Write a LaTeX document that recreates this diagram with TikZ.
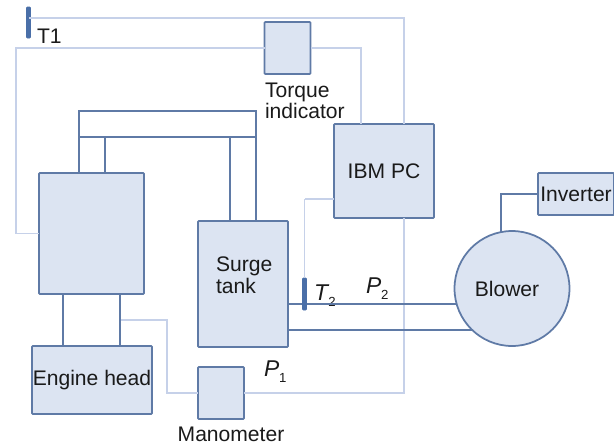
\documentclass[tikz,border=0pt]{standalone}
\usepackage{fontspec}
\setmainfont{Liberation Sans}
\usepackage{xcolor}
\usetikzlibrary{calc}
\definecolor{RigEdge}{HTML}{5F7AA6}
\definecolor{RigFill}{HTML}{DCE4F2}
\definecolor{RigWire}{HTML}{C6D1E9}
\definecolor{RigProbe}{HTML}{4A6FA8}
\definecolor{RigText}{HTML}{1A1A1A}
\newcommand{\sublabel}[3][0pt]{\textit{#2}\hspace{#1}\raisebox{-3.5pt}{\fontsize{7.5}{8}\selectfont #3}}

\begin{document}
\begin{tikzpicture}[
  x=0.02cm, y=-0.02cm,
  box/.style={draw=RigEdge, fill=RigFill, line width=1pt, rounded corners=0.5pt, outer sep=0pt, inner sep=0pt, align=center, text=RigText, font=\fontsize{12}{13}\selectfont},
  duct/.style={draw=RigEdge, line width=1pt},
  wire/.style={draw=RigWire, line width=0.8pt},
  probe/.style={draw=RigProbe, fill=RigProbe, rounded corners=0.5pt, minimum width=0.08cm, minimum height=#1, inner sep=0pt, outer sep=0pt},
  tag/.style={text=RigText, inner sep=0pt, outer sep=0pt, font=\fontsize{12}{13}\selectfont},
  varname/.style={text=RigText, inner sep=0pt, outer sep=0pt, font=\fontsize{13}{14}\selectfont}
]
\useasboundingbox (0,0) rectangle (614,447);

\node[box, minimum width=2.1cm, minimum height=2.42cm] (engine) at (91.5,233.5) {};
\node[box, minimum width=2.4cm, minimum height=1.36cm] (head) at (92,380) {Engine head};
\node[box, minimum width=1.8cm, minimum height=2.52cm] (surge) at (243,284) {};
\node[box, minimum width=0.92cm, minimum height=1.04cm] (torque) at (287.5,48) {};
\node[box, minimum width=0.92cm, minimum height=1.04cm] (manometer) at (221,393) {};
\node[box, minimum width=2.0cm, minimum height=1.88cm] (pc) at (384,171) {IBM PC};
\node[box, minimum width=1.52cm, minimum height=0.84cm] (inverter) at (576,194) {Inverter};
\node[box, circle, minimum size=2.3cm] (blower) at (512,288.5) {};
\node[draw=RigEdge, line width=1pt, fill=white, minimum width=3.54cm, minimum height=0.52cm, inner sep=0pt, outer sep=0pt] (manifold) at (167.5,124) {};
\node[probe=0.62cm] (t1) at (28.5,22.5) {};

\node[tag, anchor=base west] (t1label) at (37,43) {T1};
\node[tag, anchor=base west] (torquetop) at (265,97) {Torque};
\node[tag, anchor=base west] (torquebot) at (265,118) {indicator};
\node[tag, anchor=base west] (surgetop) at (216,271) {Surge};
\node[tag, anchor=base west] (surgebot) at (216,293) {tank};
\node[tag, anchor=base] (blowerlabel) at (507,296) {Blower};
\node[tag, anchor=base] (manolabel) at (231,441) {Manometer};
\node[varname, anchor=base west] (p1) at (264,376) {\sublabel{P}{1}};
\node[varname, anchor=base west] (p2) at (366,293) {\sublabel{P}{2}};
\node[varname, anchor=base west] (t2label) at (314,300) {\sublabel[-0.5pt]{T}{2}};

\coordinate (t1tap) at (29,18);
\coordinate (engwire) at (16,48);
\coordinate (pcleft) at ($(pc.north)+(-23,0)$);
\coordinate (pcright) at ($(pc.north)+(20,0)$);
\coordinate (pcdown) at ($(pc.south)+(20,0)$);
\coordinate (mantap) at (120,320);
\coordinate (manbend) at (167,320);
\coordinate (t2bend) at (304.5,199);

% signal wires
\draw[wire] (t1tap) -| (pcright);
\draw[wire] (torque.west) -- (engwire) |- (engine.west);
\draw[wire] (torque.east) -| (pcleft);
\draw[wire] (pcdown) |- (manometer.east);
\draw[wire] (mantap) -- (manbend) |- (manometer.west);
\draw[wire] (pc.west |- t2bend) -- (t2bend);

% intake and exhaust pipes
\draw[duct] (manifold.south west) -- (manifold.south west |- engine.north);
\draw[duct] ($(manifold.south west)+(26,0)$) -- ($(manifold.south west |- engine.north)+(26,0)$);
\draw[duct] ($(manifold.south east)+(-26,0)$) -- ($(manifold.south east |- surge.north)+(-26,0)$);
\draw[duct] (manifold.south east) -- (manifold.south east |- surge.north);
\draw[duct] ($(engine.south west)+(24,0)$) -- ($(engine.south west |- head.north)+(24,0)$);
\draw[duct] (mantap |- engine.south) -- (mantap |- head.north);
\draw[duct] (blower.196.5) -- (blower.196.5 -| surge.east);
\draw[duct] (blower.226) -- (blower.226 -| surge.east);
\draw[duct] (inverter.west) -| ($(blower.north)+(-11,1)$);

\node[probe=0.64cm] (t2) at (304.5,294) {};
\draw[wire] (t2bend) -- (t2.north);
\end{tikzpicture}
\end{document}
